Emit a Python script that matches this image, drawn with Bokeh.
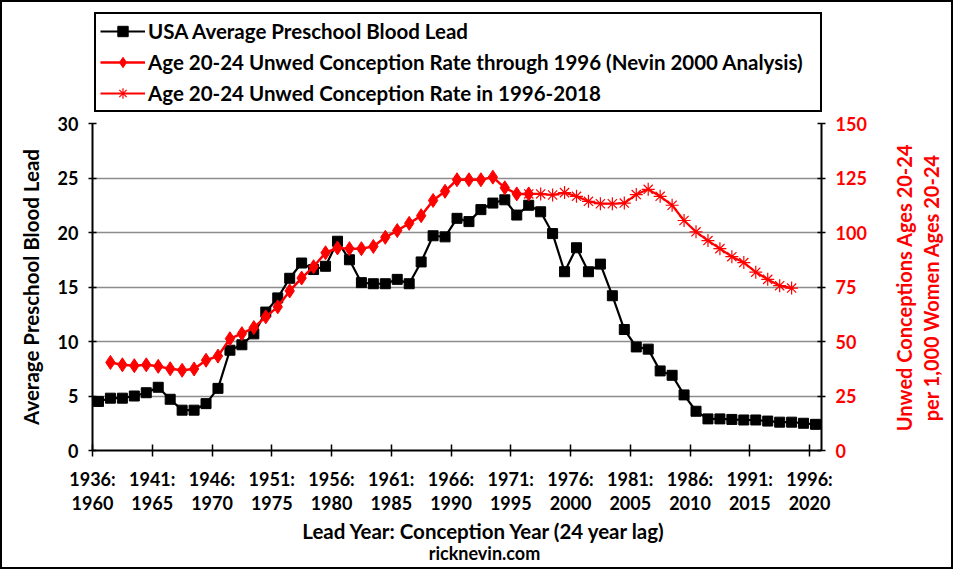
import math
from bokeh.plotting import figure
from bokeh.layouts import column, row
from bokeh.models import Range1d, LinearAxis, FixedTicker, Legend, LegendItem, Label
from bokeh.embed import file_html
from bokeh.resources import INLINE

LAG = 24
lead_years = list(range(1936, 1997))
blood_lead = [4.5, 4.8, 4.8, 5.0, 5.3, 5.8, 4.7, 3.7, 3.7, 4.3,
              5.7, 9.2, 9.7, 10.7, 12.7, 14.0, 15.8, 17.2, 16.6, 16.9,
              19.2, 17.5, 15.4, 15.3, 15.3, 15.7, 15.3, 17.3, 19.7, 19.6,
              21.3, 21.0, 22.1, 22.7, 23.0, 21.6, 22.5, 21.9, 19.9, 16.4,
              18.6, 16.4, 17.1, 14.2, 11.1, 9.5, 9.3, 7.3, 6.9, 5.1,
              3.6, 2.9, 2.9, 2.85, 2.8, 2.8, 2.7, 2.6, 2.6, 2.5, 2.4]

conc_years_nevin = list(range(1961, 1997))
rate_nevin = [40.4, 39.3, 38.9, 39.3, 38.6, 37.5, 36.8, 37.4, 41.4, 43.3,
              51.3, 53.6, 56.4, 61.3, 65.9, 73.2, 79.1, 84.3, 90.7, 92.9,
              92.6, 92.6, 93.6, 97.8, 100.9, 104.2, 107.7, 114.7, 118.9, 124.2,
              124.2, 124.2, 125.4, 120.5, 117.7, 117.7]

conc_years_new = list(range(1996, 2019))
rate_new = [117.7, 117.7, 117.2, 118.3, 116.6, 114.3, 113.2, 113.2, 113.5, 117.4,
            119.8, 116.6, 112.5, 105.5, 100.3, 96.3, 92.6, 88.9, 86.2, 81.8,
            78.5, 75.6, 74.5]

tick_years = list(range(1936, 1997, 5))
tick_labels = {y: f"{y}:\n{y + LAG}" for y in tick_years}

left_ticks = [0, 5, 10, 15, 20, 25, 30]
right_ticks = [0, 25, 50, 75, 100, 125, 150]

legend_labels = ["USA Average Preschool Blood Lead",
                 "Age 20-24 Unwed Conception Rate through 1996 (Nevin 2000 Analysis)",
                 "Age 20-24 Unwed Conception Rate in 1996-2018"]
left_title = "Average Preschool Blood Lead"
right_title_lines = ["Unwed Conceptions Ages 20-24", "per 1,000 Women Ages 20-24"]
x_title = "Lead Year: Conception Year (24 year lag)"
credit = "ricknevin.com"

FONT = "Lato"
RED = "#FF0000"
TOTAL_W = 949
MAIN_W = 884
MAIN_H = 404


def blank(width, height):
    f = figure(width=width, height=height, output_backend="svg", toolbar_location=None,
               x_range=Range1d(0, 1), y_range=Range1d(0, 1),
               x_axis_location=None, y_axis_location=None,
               min_border=0, min_border_left=0, min_border_right=0,
               min_border_top=0, min_border_bottom=0)
    f.outline_line_color = None
    f.grid.visible = False
    return f


# ---------------- main plot ----------------
p = figure(width=MAIN_W, height=MAIN_H, output_backend="svg", toolbar_location=None,
           x_range=Range1d(1936, 1997), y_range=Range1d(0, 30),
           min_border_left=90, min_border_right=65, min_border_top=9,
           min_border_bottom=68)
p.outline_line_color = None
p.extra_y_ranges = {"rate": Range1d(0, 150)}

x_lead = [y + 0.5 for y in lead_years]
x_nevin = [y - LAG + 0.5 for y in conc_years_nevin]
x_new = [y - LAG + 0.5 for y in conc_years_new]

black_line = dict(line_color="black", line_width=2.2)
black_mark = dict(marker="square", size=10, fill_color="black", line_color="black")
red1_line = dict(line_color=RED, line_width=2.5)
red1_mark = dict(marker="diamond", size=14, fill_color=RED, line_color=RED)
red2_line = dict(line_color=RED, line_width=2.2)
red2_mark = dict(marker="asterisk", size=13, line_color=RED, line_width=1.2)

p.line(x_lead, blood_lead, **black_line)
p.scatter(x_lead, blood_lead, **black_mark)
p.line(x_new, rate_new, y_range_name="rate", **red2_line)
p.scatter(x_new, rate_new, y_range_name="rate", **red2_mark)
p.line(x_nevin, rate_nevin, y_range_name="rate", **red1_line)
p.scatter(x_nevin, rate_nevin, y_range_name="rate", **red1_mark)

p.xaxis.ticker = FixedTicker(ticks=tick_years)
p.xaxis.major_label_overrides = tick_labels
p.xaxis.major_label_text_font = FONT
p.xaxis.major_label_text_font_style = "bold"
p.xaxis.major_label_text_font_size = "18px"
p.xaxis.major_label_text_color = "black"
p.xaxis.major_label_text_line_height = 1.12
p.xaxis.major_label_standoff = 11
p.xaxis.major_tick_in = 6
p.xaxis.major_tick_out = 6
p.xaxis.minor_tick_line_color = None
p.xaxis.axis_line_width = 2
p.xaxis.major_tick_line_width = 1.5

p.yaxis.ticker = FixedTicker(ticks=left_ticks)
p.yaxis.axis_label = left_title
ax = p.yaxis[0]
ax.axis_label_text_font = FONT
ax.axis_label_text_font_style = "bold"
ax.axis_label_text_font_size = "20.5px"
ax.axis_label_text_color = "black"
ax.axis_label_standoff = 12
ax.major_label_text_font = FONT
ax.major_label_text_font_style = "bold"
ax.major_label_text_font_size = "18px"
ax.major_label_text_color = "black"
ax.major_tick_in = 4
ax.major_tick_out = 4
ax.minor_tick_line_color = None
ax.axis_line_width = 2
ax.major_tick_line_width = 1.5
ax.major_label_standoff = 10

right = LinearAxis(y_range_name="rate", ticker=FixedTicker(ticks=right_ticks))
right.major_label_text_font = FONT
right.major_label_text_font_style = "bold"
right.major_label_text_font_size = "18px"
right.major_label_text_color = RED
right.major_tick_in = 4
right.major_tick_out = 4
right.minor_tick_line_color = None
right.axis_line_width = 2
right.major_tick_line_width = 1.5
right.major_label_standoff = 10
p.add_layout(right, "right")

p.xgrid.grid_line_color = None
p.ygrid.grid_line_color = "#8c8c8c"
p.ygrid.grid_line_width = 1.5

# ---------------- right title panel ----------------
# (its frame is aligned with the main plot's frame inside the row)
rt = blank(TOTAL_W - MAIN_W, MAIN_H)
for xs, txt in zip([17, 44], right_title_lines):
    rt.add_layout(Label(x=xs, y=163, x_units="screen", y_units="screen", text=txt,
                        angle=math.pi / 2, text_align="center", text_baseline="middle",
                        text_font=FONT, text_font_style="bold", text_font_size="20px",
                        text_color=RED))

# ---------------- legend panel ----------------
lg = blank(TOTAL_W, 112)
r1 = [lg.line(x_lead, blood_lead, **black_line), lg.scatter(x_lead, blood_lead, **black_mark)]
r2 = [lg.line(x_nevin, rate_nevin, **red1_line), lg.scatter(x_nevin, rate_nevin, **red1_mark)]
r3 = [lg.line(x_new, rate_new, **red2_line), lg.scatter(x_new, rate_new, **red2_mark)]
legend = Legend(items=[LegendItem(label=legend_labels[0], renderers=r1),
                       LegendItem(label=legend_labels[1], renderers=r2),
                       LegendItem(label=legend_labels[2], renderers=r3)],
                location=(92, 2))
legend.label_text_font = FONT
legend.label_text_font_style = "bold"
legend.label_text_font_size = "20.5px"
legend.label_text_color = "black"
legend.label_width = 668
legend.glyph_width = 45
legend.glyph_height = 26
legend.label_height = 26
legend.label_standoff = 3
legend.spacing = 5
legend.padding = 4
legend.margin = 0
legend.border_line_color = "black"
legend.border_line_alpha = 1
legend.border_line_width = 2
legend.background_fill_alpha = 1
lg.add_layout(legend, "center")

# ---------------- bottom titles panel ----------------
bt = blank(TOTAL_W, 565 - 112 - MAIN_H)
bt.add_layout(Label(x=482, y=37, x_units="screen", y_units="screen", text=x_title,
                    text_align="center", text_baseline="middle",
                    text_font=FONT, text_font_style="bold", text_font_size="20.5px",
                    text_color="black"))
bt.add_layout(Label(x=482, y=15, x_units="screen", y_units="screen", text=credit,
                    text_align="center", text_baseline="middle",
                    text_font=FONT, text_font_style="bold", text_font_size="18px",
                    text_color="black"))

layout = column(lg, row(p, rt), bt)
layout.styles = {"border": "2px solid black"}

open("out.html", "w").write(file_html(layout, INLINE))
